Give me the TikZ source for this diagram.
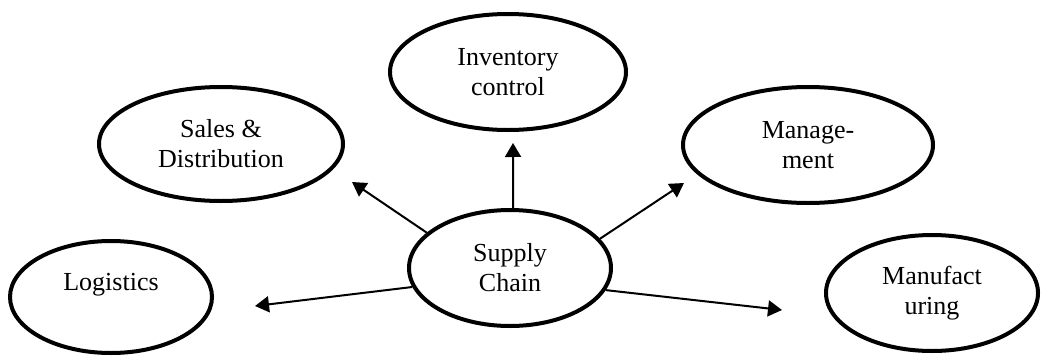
\documentclass[tikz,border=0pt]{standalone}
\usepackage{fontspec}
\setmainfont{Liberation Serif}
\usetikzlibrary{arrows.meta,shapes.geometric}

\tikzset{
  topic/.style={draw, ellipse, line width=4pt, inner sep=0pt, align=center,
    font=\fontsize{26}{30}\selectfont},
  link/.style={line width=2pt, -{Triangle[length=14pt,width=16pt]}}
}

\begin{document}
\begin{tikzpicture}[x=1pt,y=-1pt]
  \useasboundingbox (0,0) rectangle (1041,356);

  % hub and surrounding topics
  \node[topic, minimum width=202pt, minimum height=116pt] (sc)  at (510,268) {Supply\\Chain};
  \node[topic, minimum width=236pt, minimum height=116pt] (inv) at (508,72)  {Inventory\\control};
  \node[topic, minimum width=244pt, minimum height=114pt] (sal) at (221,144) {Sales \&\\Distribution};
  \node[topic, minimum width=250pt, minimum height=116pt] (mgt) at (808,145) {Manage-\\ment};
  \node[topic, minimum width=202pt, minimum height=112pt] (log) at (111,297) {Logistics\\\mbox{}};
  \node[topic, minimum width=212pt, minimum height=116pt] (man) at (932,293) {Manufact\\uring};

  % arrow heads stop short of each topic
  \coordinate (tipI) at (513,143);
  \coordinate (tipS) at (352,182);
  \coordinate (tipM) at (684,183);
  \coordinate (tipL) at (255,306);
  \coordinate (tipF) at (782,310);

  \draw[link] (sc.87) -- (tipI);
  \draw[link] (sc.157) -- (tipS);
  \draw[link] (sc.18) -- (tipM);
  \draw[link] (sc.191) -- (tipL);
  \draw[link] (sc.-13) -- (tipF);
\end{tikzpicture}
\end{document}
